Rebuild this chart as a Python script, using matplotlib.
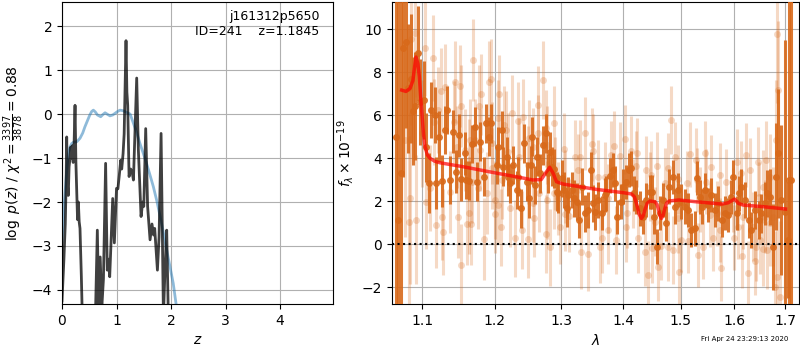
import numpy as np
import matplotlib
matplotlib.use("Agg")
import matplotlib.pyplot as plt
from matplotlib.ticker import FixedLocator, NullLocator, FormatStrFormatter

# ---------------- left panel: p(z) ----------------
pz_z = [0.00, 0.035, 0.06, 0.075, 0.086, 0.10, 0.115, 0.13, 0.147, 0.16, 0.175, 0.19, 0.205,
        0.22, 0.239, 0.255, 0.27, 0.285, 0.30, 0.315, 0.33, 0.355, 0.38, 0.45, 0.55, 0.615,
        0.648, 0.675, 0.70, 0.73, 0.76, 0.80, 0.83, 0.85, 0.875, 0.93, 0.96, 1.00, 1.025,
        1.05, 1.077, 1.095, 1.12, 1.14, 1.174, 1.19, 1.205, 1.23, 1.26, 1.29, 1.31, 1.37,
        1.40, 1.45, 1.48, 1.50, 1.535, 1.57, 1.615, 1.65, 1.68, 1.70, 1.75, 1.78, 1.817,
        1.86, 1.89, 1.92, 1.95, 2.0, 2.5, 5.0]
pz_logp = [-4.25, -3.3, -2.5, -1.6, -0.52, -1.6, -1.85, -1.2, -1.0, -0.75, -1.0, -0.72, -1.1,
           -0.75, 0.2, -1.1, -1.75, -2.4, -2.0, -2.45, -2.6, -3.7, -5.0, -6.5, -6.0, -4.5,
           -2.64, -4.5, -3.25, -4.4, -3.75, -1.12, -3.55, -3.3, -3.7, -1.92, -2.93, -1.69, -1.7,
           -1.4, -1.05, -1.25, -0.9, -0.45, 1.67, 0.5, 0.2, -1.42, -1.25, -1.35, -1.5, 0.82,
           -0.8, -2.33, -2.0, -2.1, -0.33, -2.1, -2.86, -2.5, -2.75, -2.6, -3.55, -2.8, -0.44,
           -4.6, -3.5, -2.64, -4.6, -6.5, -9.0, -12.0]

prior_z = [0.0, 0.012, 0.037, 0.055, 0.086, 0.116, 0.15, 0.178, 0.21, 0.27, 0.33, 0.38, 0.42,
           0.47, 0.51, 0.545, 0.575, 0.61, 0.65, 0.71, 0.75, 0.79, 0.84, 0.88, 0.93, 0.97,
           1.02, 1.064, 1.11, 1.15, 1.20, 1.25, 1.31, 1.37, 1.43, 1.49, 1.55, 1.61, 1.675,
           1.74, 1.80, 1.86, 1.92, 1.98, 2.04, 2.09, 2.2, 3.0]
prior_logp = [-2.9, -2.64, -2.1, -1.8, -1.3, -0.89, -0.74, -0.67, -0.64, -0.63, -0.55, -0.43,
              -0.29, -0.14, -0.02, 0.06, 0.09, 0.05, -0.02, -0.06, -0.01, 0.03, -0.01, -0.04,
              -0.02, 0.015, 0.06, 0.09, 0.08, 0.06, 0.03, 0.0, -0.21, -0.42, -0.67, -0.89,
              -1.12, -1.37, -1.65, -1.98, -2.33, -2.7, -3.09, -3.47, -3.85, -4.3, -5.2, -12.0]

# ---------------- right panel: spectrum ----------------
model_wave = [1.0735, 1.0790, 1.0843, 1.0880, 1.0905, 1.0920, 1.0945, 1.0965, 1.0985, 1.1000,
              1.1020, 1.1040, 1.1070, 1.1106, 1.1170, 1.1240, 1.1550, 1.1976, 1.2316, 1.2565,
              1.2690, 1.2770, 1.2820, 1.2873, 1.2925, 1.3029, 1.3563, 1.4000, 1.4140, 1.4190,
              1.4226, 1.4270, 1.4310, 1.4340, 1.4370, 1.4410, 1.4457, 1.4544, 1.4580, 1.4602,
              1.4630, 1.4657, 1.4690, 1.4719, 1.4750, 1.4790, 1.4968, 1.5263, 1.5763, 1.5880,
              1.5950, 1.6000, 1.6040, 1.6076, 1.6175, 1.6553, 1.7010]
model_flux = [7.16, 7.10, 7.24, 7.60, 8.30, 8.70, 8.40, 7.78, 6.70, 6.00,
              5.10, 4.53, 4.15, 3.99, 3.85, 3.78, 3.60, 3.33, 3.13, 2.98,
              3.00, 3.36, 3.57, 3.29, 2.90, 2.79, 2.54, 2.39, 2.33, 2.20,
              1.89, 1.40, 1.19, 1.30, 1.58, 1.90, 2.00, 1.97, 1.85, 1.66,
              1.35, 1.19, 1.35, 1.66, 1.90, 2.00, 2.05, 1.97, 1.86, 1.92,
              2.02, 2.09, 2.00, 1.89, 1.81, 1.74, 1.63]

# first (opaque) spectrum
wave_a = [1.0664, 1.0685, 1.0720, 1.0752, 1.0788, 1.0818, 1.0857, 1.0880, 1.0908, 1.0947,
          1.0974, 1.1026, 1.1053, 1.1088, 1.1123, 1.1168, 1.1190, 1.1226, 1.1267, 1.1312,
          1.1335, 1.1380, 1.1417, 1.1458, 1.1495, 1.1531, 1.1578, 1.1596, 1.1642, 1.1680,
          1.1718, 1.1750, 1.1796, 1.1844, 1.1881, 1.1915, 1.1948, 1.2031, 1.2054, 1.2103,
          1.2127, 1.2176, 1.2200, 1.2224, 1.2273, 1.2323, 1.2347, 1.2387, 1.2436, 1.2472,
          1.2500, 1.2530, 1.2556, 1.2596, 1.2631, 1.2672, 1.2722, 1.2759, 1.2799, 1.2825,
          1.2860, 1.2891, 1.2928, 1.2953, 1.3005, 1.3041, 1.3083, 1.3108, 1.3162, 1.3203,
          1.3241, 1.3278, 1.3331, 1.3374, 1.3428, 1.3471, 1.3508, 1.3535, 1.3589, 1.3649,
          1.3693, 1.3719, 1.3775, 1.3830, 1.3858, 1.3901, 1.3958, 1.3996, 1.4052, 1.4093,
          1.4137, 1.4182, 1.4222, 1.4280, 1.4336, 1.4393, 1.4452, 1.4492, 1.4527, 1.4584,
          1.4626, 1.4684, 1.4742, 1.4784, 1.4860, 1.4902, 1.4950, 1.4998, 1.5071, 1.5130,
          1.5190, 1.5252, 1.5294, 1.5343, 1.5380, 1.5441, 1.5503, 1.5553, 1.5627, 1.5689,
          1.5753, 1.5815, 1.5878, 1.5942, 1.5974, 1.6039, 1.6089, 1.6135, 1.6199, 1.6282,
          1.6329, 1.6394, 1.6478, 1.6525, 1.6591, 1.6645, 1.6705, 1.6758, 1.6826, 1.6859,
          1.6927, 1.6993, 1.7055, 1.7082, 1.7130]
flux_a = [5.0, 1.12, 3.32, 9.1, 9.4, 7.24, 7.7, 6.2, 6.42, 8.87,
          6.6, 6.7, 4.5, 2.85, 6.23, 6.0, 2.85, 5.0, 2.93, 5.3,
          6.23, 2.98, 5.22, 3.36, 5.07, 3.02, 4.22, 2.98, 2.94, 4.65,
          5.46, 2.9, 4.76, 3.13, 5.61, 4.99, 5.61, 3.67, 4.53, 5.3,
          3.6, 4.06, 3.13, 2.82, 3.67, 2.51, 3.13, 1.66, 4.68, 2.9,
          2.12, 3.67, 4.99, 2.74, 4.06, 3.29, 4.6, 5.15, 3.29, 4.29,
          3.6, 3.5, 2.43, 2.36, 3.06, 2.51, 1.66, 2.28, 2.51, 2.12,
          1.97, 1.12, 2.67, 1.43, 1.58, 3.44, 1.89, 1.5, 2.05, 1.43,
          2.28, 2.36, 3.18, 3.44, 2.82, 1.27, 1.97, 2.67, 2.9, 3.44,
          3.52, 2.36, 2.2, 1.66, 1.27, 2.05, 2.43, 2.43, 1.27, -0.12,
          1.43, 2.05, 0.96, 2.67, 3.13, 1.74, 2.51, 1.97, 1.74, 1.58,
          0.65, 0.73, 3.06, 2.2, 1.74, 2.51, 1.81, 2.28, 1.58, 1.89,
          1.12, 1.43, 1.35, 2.2, 3.13, 1.43, 2.36, 2.67, 2.05, 1.12,
          0.65, 1.58, 1.12, 1.43, 1.89, 2.36, 2.2, -0.12, 3.13, 4.22,
          2.05, 1.5, 0.2, 3.0, 3.0]
err_a = [15, 12, 10, 6, 4, 3, 3, 2.5, 2.5, 2.2,
         2.0, 1.8, 1.6, 1.4, 1.3, 1.3, 1.2, 1.2, 1.2, 1.1,
         1.1, 1.1, 1.0, 1.0, 1.0, 1.0, 1.0, 0.9, 0.9, 0.9,
         0.9, 0.9, 0.9, 0.9, 0.9, 0.9, 0.9, 0.9, 0.9, 0.9,
         0.9, 0.9, 0.9, 0.9, 0.9, 0.9, 0.9, 0.9, 0.9, 0.9,
         0.9, 0.9, 0.9, 0.9, 0.9, 0.9, 0.9, 0.9, 0.9, 0.9,
         0.9, 0.9, 0.9, 0.9, 0.85, 0.85, 0.85, 0.85, 0.85, 0.85,
         0.85, 0.85, 0.85, 0.85, 0.85, 0.85, 0.85, 0.85, 0.85, 0.8,
         0.8, 0.8, 0.8, 0.8, 0.8, 0.8, 0.8, 0.8, 0.8, 0.8,
         0.8, 0.8, 0.8, 0.8, 0.8, 0.8, 0.8, 0.8, 0.8, 0.8,
         0.8, 0.8, 0.8, 0.8, 0.8, 0.8, 0.8, 0.8, 0.8, 0.8,
         0.8, 0.8, 0.8, 0.8, 0.8, 0.8, 0.8, 0.8, 0.8, 0.8,
         0.8, 0.8, 0.8, 0.8, 0.8, 0.8, 0.8, 0.8, 0.85, 0.85,
         0.85, 0.9, 0.9, 0.9, 1.0, 1.1, 1.3, 2.0, 2.5, 3.0,
         3.5, 8, 2.7, 20, 20]

# second (faded) spectrum
wave_b = [1.0782, 1.0834, 1.0847, 1.0855, 1.0912, 1.0918, 1.1000, 1.1044, 1.1050, 1.1110,
          1.1141, 1.1154, 1.1190, 1.1213, 1.1254, 1.1262, 1.1281, 1.1308, 1.1380, 1.1427,
          1.1440, 1.1472, 1.1486, 1.1517, 1.1525, 1.1531, 1.1586, 1.1610, 1.1634, 1.1640,
          1.1656, 1.1666, 1.1680, 1.1694, 1.1726, 1.1770, 1.1782, 1.1796, 1.1810, 1.1844,
          1.1891, 1.1915, 1.1953, 1.1958, 1.1963, 1.2006, 1.2010, 1.2045, 1.2054, 1.2064,
          1.2089, 1.2103, 1.2141, 1.2161, 1.2200, 1.2224, 1.2249, 1.2298, 1.2347, 1.2355,
          1.2407, 1.2421, 1.2490, 1.2496, 1.2506, 1.2561, 1.2571, 1.2581, 1.2638, 1.2647,
          1.2655, 1.2722, 1.2759, 1.2765, 1.2774, 1.2785, 1.2825, 1.2880, 1.2891, 1.2902,
          1.2953, 1.2979, 1.3046, 1.3057, 1.3065, 1.3120, 1.3215, 1.3267, 1.3294, 1.3310,
          1.3374, 1.3418, 1.3482, 1.3508, 1.3589, 1.3611, 1.3649, 1.3693, 1.3747, 1.3755,
          1.3802, 1.3846, 1.3885, 1.3941, 1.4036, 1.4052, 1.4069, 1.4126, 1.4165, 1.4211,
          1.4238, 1.4250, 1.4365, 1.4393, 1.4422, 1.4452, 1.4480, 1.4488, 1.4539, 1.4573,
          1.4590, 1.4643, 1.4714, 1.4772, 1.4780, 1.4830, 1.4860, 1.4902, 1.4950, 1.4960,
          1.4968, 1.5008, 1.5118, 1.5130, 1.5160, 1.5281, 1.5290, 1.5312, 1.5349, 1.5410,
          1.5441, 1.5455, 1.5534, 1.5565, 1.5596, 1.5659, 1.5721, 1.5730, 1.5740, 1.5847,
          1.5974, 1.5985, 1.6039, 1.6070, 1.6135, 1.6145, 1.6167, 1.6232, 1.6264, 1.6296,
          1.6361, 1.6394, 1.6426, 1.6459, 1.6470, 1.6492, 1.6558, 1.6565, 1.6591, 1.6625,
          1.6635, 1.6691, 1.6700, 1.6758, 1.6791, 1.6826, 1.6836, 1.6846, 1.6866, 1.6892]
flux_b = [4.84, 1.04, 2.12, 9.52, 9.83, 1.12, 5.15, 9.1, 1.97, 2.59,
          8.64, 5.69, 0.88, 6.23, 7.13, 1.27, 0.54, 7.3, 2.43, 5.69,
          7.55, 4.53, 1.24, 7.35, 6.42, -0.98, 4.38, 0.93, 3.91, 1.43,
          4.84, 0.93, 2.9, 8.56, 4.84, 2.59, 6.42, 4.38, 6.96, 0.22,
          2.39, 7.55, 7.66, 3.52, 4.69, 1.4, 2.05, 5.85, 1.81, 6.98,
          0.77, 2.98, 5.53, 5.3, 4.29, 1.66, 6.08, 0.26, 5.72, 4.06,
          0.65, 5.89, 0.22, 3.67, 4.91, 4.53, 1.89, 1.19, 6.47, 5.15,
          2.36, 7.63, 5.38, 0.47, 4.6, 2.05, -0.16, 2.39, 5.64, 3.29,
          2.12, 0.77, 4.4, 2.67, 1.38, 1.32, 4.06, 3.44, 4.06, -0.39,
          5.15, -0.47, 4.65, 4.34, 3.13, -0.12, 0.26, 3.13, 2.12, 0.65,
          4.14, 4.57, 0.19, 4.09, 4.87, 0.77, 1.43, 4.34, 2.36, 3.64,
          4.25, 0.26, -0.36, 3.44, -1.44, 2.67, 3.21, -0.2, 1.04, 3.63,
          -1.05, -0.09, 2.85, 3.56, -0.12, 5.77, -0.28, 4.06, 3.01, 1.19,
          -1.32, 0.19, 2.85, 0.16, 4.17, 3.91, 2.98, -0.51, 2.08, -0.12,
          4.22, 2.9, 1.35, 3.57, 0.26, 1.43, 3.21, 0.65, -1.13, 2.9,
          2.05, 0.3, 3.83, 0.8, 3.29, -0.56, 1.27, 4.14, -1.36, 3.44,
          0.8, -0.79, -0.12, 3.83, 2.2, 0.19, 2.67, -0.25, 1.27, 3.91,
          -0.28, 3.13, 0.96, 1.27, -1.98, 4.84, -1.52, 9.77, 7.16, -2.45]
err_b = [4.5, 4.0, 4.0, 4.0, 3.0, 3.0, 2.5, 2.2, 2.2, 2.0,
         2.0, 2.0, 2.0, 2.0, 2.0, 2.0, 2.0, 2.0, 1.9, 1.9,
         1.9, 1.9, 1.9, 1.9, 1.9, 1.9, 1.9, 1.9, 1.9, 1.9,
         1.9, 1.9, 1.9, 1.9, 1.9, 1.9, 1.9, 1.9, 1.9, 1.9,
         1.9, 1.9, 1.9, 1.9, 1.9, 1.8, 1.8, 1.8, 1.8, 1.8,
         1.8, 1.8, 1.8, 1.8, 1.8, 1.8, 1.8, 1.8, 1.8, 1.8,
         1.8, 1.8, 1.8, 1.8, 1.8, 1.8, 1.8, 1.8, 1.8, 1.8,
         1.8, 1.8, 1.8, 1.8, 1.8, 1.8, 1.8, 1.7, 1.7, 1.7,
         1.7, 1.7, 1.7, 1.7, 1.7, 1.7, 1.7, 1.7, 1.7, 1.7,
         1.7, 1.7, 1.7, 1.7, 1.7, 1.7, 1.6, 1.6, 1.6, 1.6,
         1.6, 1.6, 1.6, 1.6, 1.6, 1.6, 1.6, 1.6, 1.6, 1.6,
         1.6, 1.6, 1.6, 1.6, 1.6, 1.6, 1.6, 1.6, 1.6, 1.6,
         1.6, 1.6, 1.6, 1.6, 1.6, 1.6, 1.6, 1.6, 1.6, 1.6,
         1.6, 1.5, 1.5, 1.5, 1.5, 1.5, 1.5, 1.5, 1.5, 1.5,
         1.5, 1.5, 1.5, 1.5, 1.5, 1.5, 1.5, 1.5, 1.5, 1.5,
         1.5, 1.5, 1.5, 1.5, 1.5, 1.5, 1.5, 1.5, 1.5, 1.5,
         1.6, 1.6, 1.6, 1.6, 1.6, 1.6, 1.7, 1.7, 1.7, 1.8,
         1.8, 2.0, 2.0, 2.3, 2.6, 2.8, 2.8, 3.2, 3.2, 3.5]

left_title = "j161312p5650\nID=241    z=1.1845"
stamp = "Fri Apr 24 23:29:13 2020"
wave_ticks = [1.1, 1.2, 1.3, 1.4, 1.5, 1.6, 1.7]

spec_color = "#d8691a"

fig = plt.figure(figsize=(8, 3.5), dpi=100)
ax1 = fig.add_axes([0.0775, 0.1314, 0.33875, 0.8629])
ax2 = fig.add_axes([0.49, 0.1314, 0.50875, 0.8629])

# left
ax1.plot(prior_z, prior_logp, color="#1f77b4", alpha=0.5, lw=2)
ax1.plot(pz_z, pz_logp, color="k", alpha=0.75, lw=2)
ax1.set_xlim(0, 4.97)
ax1.set_ylim(-4.32, 2.55)
ax1.set_xticks([0, 1, 2, 3, 4])
ax1.set_yticks([-4, -3, -2, -1, 0, 1, 2])
ax1.grid(True)
ax1.set_xlabel(r"$z$")
ax1.set_ylabel(r"$\log\ p(z)$" + " / " + r"$\chi^2=\frac{3397}{3878}=0.88$")
ax1.text(0.95, 0.975, left_title, ha="right", va="top", transform=ax1.transAxes,
         fontsize=9, linespacing=1.25)

# right
ax2.set_xscale("log")
ax2.errorbar(wave_b, flux_b, yerr=err_b, fmt="o", color=spec_color, alpha=0.25,
             ms=5, elinewidth=2.2, mec="none", zorder=2)
ax2.errorbar(wave_a, flux_a, yerr=err_a, fmt="o", color=spec_color, alpha=0.9,
             ms=5, elinewidth=2.2, mec="none", zorder=3)
ax2.plot(model_wave, model_flux, color="r", alpha=0.7, lw=2.5, zorder=4)
ax2.axhline(0, color="k", ls=":", lw=1.5, zorder=5)
ax2.set_xlim(1.0611, 1.7287)
ax2.set_ylim(-2.79, 11.26)
ax2.xaxis.set_major_locator(FixedLocator(wave_ticks))
ax2.xaxis.set_major_formatter(FormatStrFormatter("%.1f"))
ax2.xaxis.set_minor_locator(NullLocator())
ax2.set_yticks([-2, 0, 2, 4, 6, 8, 10])
ax2.grid(True)
ax2.set_xlabel(r"$\lambda$")
ax2.set_ylabel(r"$f_\lambda \times 10^{-19}$")

fig.text(0.985, 0.022, stamp, ha="right", va="bottom", fontsize=5)

fig.savefig("out.png", dpi=100)
